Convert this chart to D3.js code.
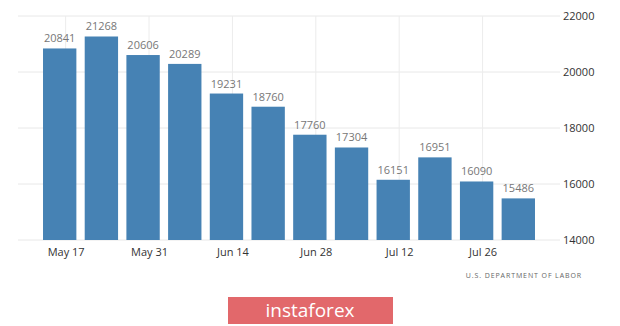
<!DOCTYPE html>
<html>
<head>
<meta charset="utf-8">
<script src="https://cdn.jsdelivr.net/npm/d3@7"></script>
<style>
  body { margin: 0; background: #fff; }
  svg { display: block; font-family: "Open Sans", "Noto Sans", sans-serif; }
</style>
</head>
<body>
<svg width="620" height="326"></svg>
<script>
// weekly data (thousands)
var weeks = ["2020-05-16", "2020-05-23", "2020-05-30", "2020-06-06", "2020-06-13", "2020-06-20",
  "2020-06-27", "2020-07-04", "2020-07-11", "2020-07-18", "2020-07-25", "2020-08-01"];
var values = [20841, 21268, 20606, 20289, 19231, 18760, 17760, 17304, 16151, 16951, 16090, 15486];
var yTicks = [14000, 16000, 18000, 20000, 22000];
var xTicks = ["2020-05-17", "2020-05-31", "2020-06-14", "2020-06-28", "2020-07-12", "2020-07-26"];

var parseDate = d3.timeParse("%Y-%m-%d");
var data = weeks.map(function(w, i) {
  return { date: parseDate(w), value: values[i] };
});

var svg = d3.select("svg");
var plotL = 18, plotR = 560, plotT = 16, plotB = 240;

// scales
var x = d3.scaleTime()
  .domain([parseDate("2020-05-09"), parseDate("2020-08-08")])
  .range([plotL, plotR]);
var y = d3.scaleLinear().domain([14000, 22000]).range([plotB, plotT]);

var barW = (x(parseDate("2020-05-23")) - x(parseDate("2020-05-16"))) * 0.8;

// horizontal grid
svg.append("g")
  .selectAll("line")
  .data(yTicks)
  .join("line")
  .attr("x1", plotL).attr("x2", plotR)
  .attr("y1", function(d) { return y(d); })
  .attr("y2", function(d) { return y(d); })
  .style("stroke", "#e8e8e8");

// vertical grid
svg.append("g")
  .selectAll("line")
  .data(xTicks)
  .join("line")
  .attr("x1", function(d) { return x(parseDate(d)); })
  .attr("x2", function(d) { return x(parseDate(d)); })
  .attr("y1", plotT).attr("y2", plotB)
  .style("stroke", "#ececec");

// bars
svg.append("g")
  .selectAll("rect")
  .data(data)
  .join("rect")
  .attr("x", function(d) { return x(d.date) - barW / 2; })
  .attr("width", barW)
  .attr("y", function(d) { return y(d.value); })
  .attr("height", function(d) { return plotB - y(d.value); })
  .style("fill", "#4682b4");

// value labels
svg.append("g")
  .selectAll("text")
  .data(data)
  .join("text")
  .attr("x", function(d) { return x(d.date); })
  .attr("y", function(d) { return y(d.value) - 6; })
  .attr("text-anchor", "middle")
  .style("font-size", "11px")
  .style("fill", "#777")
  .text(function(d) { return d.value; });

// y axis on the right
var yAxis = d3.axisRight(y).tickValues(yTicks).tickSize(0).tickPadding(4)
  .tickFormat(d3.format("d"));
svg.append("g")
  .attr("class", "axis axisy")
  .attr("transform", "translate(" + (plotR - 1) + ",0)")
  .call(yAxis)
  .call(function(g) { g.select(".domain").remove(); })
  .selectAll("text")
  .style("font-size", "11px")
  .style("font-family", "'Open Sans', sans-serif")
  .style("fill", "#333");

// x axis
var xAxis = d3.axisBottom(x)
  .tickValues(xTicks.map(parseDate))
  .tickSize(0).tickPadding(8)
  .tickFormat(d3.timeFormat("%b %-d"));
svg.append("g")
  .attr("class", "axis axisx")
  .attr("transform", "translate(0," + plotB + ")")
  .call(xAxis)
  .call(function(g) { g.select(".domain").remove(); })
  .selectAll("text")
  .style("font-size", "11px")
  .style("font-family", "'Open Sans', sans-serif")
  .style("fill", "#333");

// source
svg.append("text")
  .attr("x", 582).attr("y", 278)
  .attr("text-anchor", "end")
  .style("font-size", "7px")
  .style("letter-spacing", "0.9px")
  .style("fill", "#666")
  .text("U.S. DEPARTMENT OF LABOR");

// watermark
svg.append("rect")
  .attr("x", 228).attr("y", 297).attr("width", 165).attr("height", 27)
  .style("fill", "#e2686b");
svg.append("text")
  .attr("x", 310).attr("y", 317)
  .attr("text-anchor", "middle")
  .style("font-size", "19px")
  .style("fill", "#fff")
  .text("instaforex");
</script>
</body>
</html>
